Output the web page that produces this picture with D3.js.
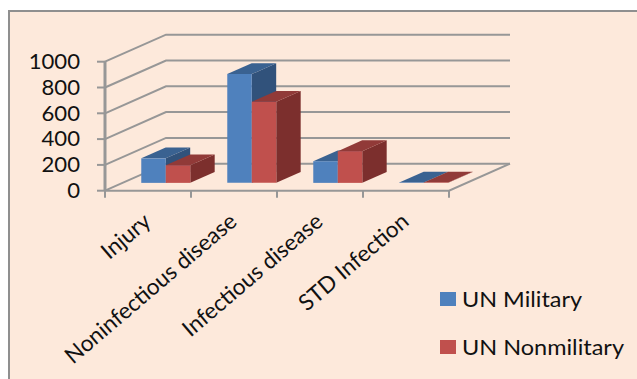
<!DOCTYPE html>
<html>
<head>
<meta charset="utf-8">
<script src="https://cdn.jsdelivr.net/npm/d3@7"></script>
<style>
  html, body { margin: 0; padding: 0; background: #fff; }
  svg { display: block; }
  text { font-family: Lato, "Open Sans", sans-serif; fill: #111; }
</style>
</head>
<body>
<svg id="chart" width="637" height="379"></svg>
<script>
const categories = ["Injury", "Noninfectious disease", "Infectious disease", "STD Infection"];
const seriesNames = ["UN Military", "UN Nonmilitary"];
const unMilitary = [190, 843, 168, 3];
const unNonmilitary = [137, 628, 246, 3];
const tickValues = [0, 200, 400, 600, 800, 1000];

const blue = { front: "#4f81bd", top: "#3a6291", side: "#31527b" };
const red = { front: "#c0504d", top: "#913a38", side: "#7c2f2d" };
const grid = "#979797";

const svg = d3.select("#chart");

// Chart panel
svg.append("rect").attr("x", 9).attr("y", 11).attr("width", 640).attr("height", 380)
  .attr("fill", "#fde9db").attr("stroke", "#8f8f8f").attr("stroke-width", 2);

// Oblique projection: category position, value and depth map to the page
const x = d3.scaleLinear().domain([0, categories.length]).range([105, 449]);
const y = d3.scaleLinear().domain([0, 1000]).range([190.7, 61.7]);
const zx = d3.scaleLinear().domain([0, 1]).range([0, 61]);
const zy = d3.scaleLinear().domain([0, 1]).range([0, -27]);
const project = (c, v, z) => [x(c) + zx(z), y(v) + zy(z)];
const line = d3.line();

const frame = svg.append("g").attr("fill", "none").attr("stroke", grid);

// Floor and wall grid lines
tickValues.forEach(t => {
  frame.append("path").attr("stroke-width", 2)
    .attr("d", line([project(0, t, 0), project(0, t, 1), project(categories.length, t, 1)]));
  frame.append("path").attr("stroke-width", 2)
    .attr("d", line([[97, y(t)], [x(0), y(t)]]));
});
frame.append("path").attr("stroke-width", 2)
  .attr("d", line([project(0, 0, 0), project(categories.length, 0, 0), project(categories.length, 0, 1)]));
frame.append("path").attr("stroke-width", 3)
  .attr("d", line([project(0, 1000, 0), project(0, 0, 0)]));
d3.range(categories.length + 1).forEach(i => {
  frame.append("path").attr("stroke-width", 2)
    .attr("d", line([project(i, 0, 0), [x(i), y(0) + 7]]));
});

// Value axis labels, stretched slightly wider than the natural glyphs
svg.append("g").selectAll("text").data(tickValues).join("text")
  .attr("transform", d => `translate(80,${y(d)}) scale(1.08,1)`)
  .attr("dy", "0.36em").attr("text-anchor", "end").attr("font-size", 20.5).text(d => d);

// Paired 3D columns
const barStart = 0.216, barWidth = 0.285, zNear = 0.29, zFar = 0.69;
function column(c0, c1, v, colors) {
  const g = svg.append("g");
  const poly = pts => "M" + pts.map(p => p.join(",")).join("L") + "Z";
  g.append("path").attr("fill", colors.side).attr("d", poly([
    project(c1, 0, zNear), project(c1, 0, zFar), project(c1, v, zFar), project(c1, v, zNear)]));
  g.append("path").attr("fill", colors.top).attr("d", poly([
    project(c0, v, zNear), project(c1, v, zNear), project(c1, v, zFar), project(c0, v, zFar)]));
  g.append("path").attr("fill", colors.front).attr("d", poly([
    project(c0, 0, zNear), project(c1, 0, zNear), project(c1, v, zNear), project(c0, v, zNear)]));
}
categories.forEach((_, i) => {
  column(i + barStart, i + barStart + barWidth, unMilitary[i], blue);
  column(i + barStart + barWidth, i + barStart + 2 * barWidth, unNonmilitary[i], red);
});

// Slanted category labels, ending under each tick
svg.append("g").selectAll("text").data(categories).join("text")
  .attr("transform", (d, i) => `translate(${x(i) + 37},${y(0) + 21}) rotate(-40.5)`)
  .attr("text-anchor", "end").attr("dy", "0.7em").attr("font-size", 22.5).text(d => d);

// Legend
const legendWidths = [120, 162];
const legend = svg.append("g");
seriesNames.forEach((name, i) => {
  legend.append("rect").attr("x", 440).attr("y", 292 + i * 48).attr("width", 16).attr("height", 14)
    .attr("fill", i === 0 ? blue.front : red.front);
  legend.append("text").attr("x", 462).attr("y", 299 + i * 48).attr("dy", "0.36em")
    .attr("font-size", 21).attr("textLength", legendWidths[i])
    .attr("lengthAdjust", "spacingAndGlyphs").text(name);
});
</script>
</body>
</html>
